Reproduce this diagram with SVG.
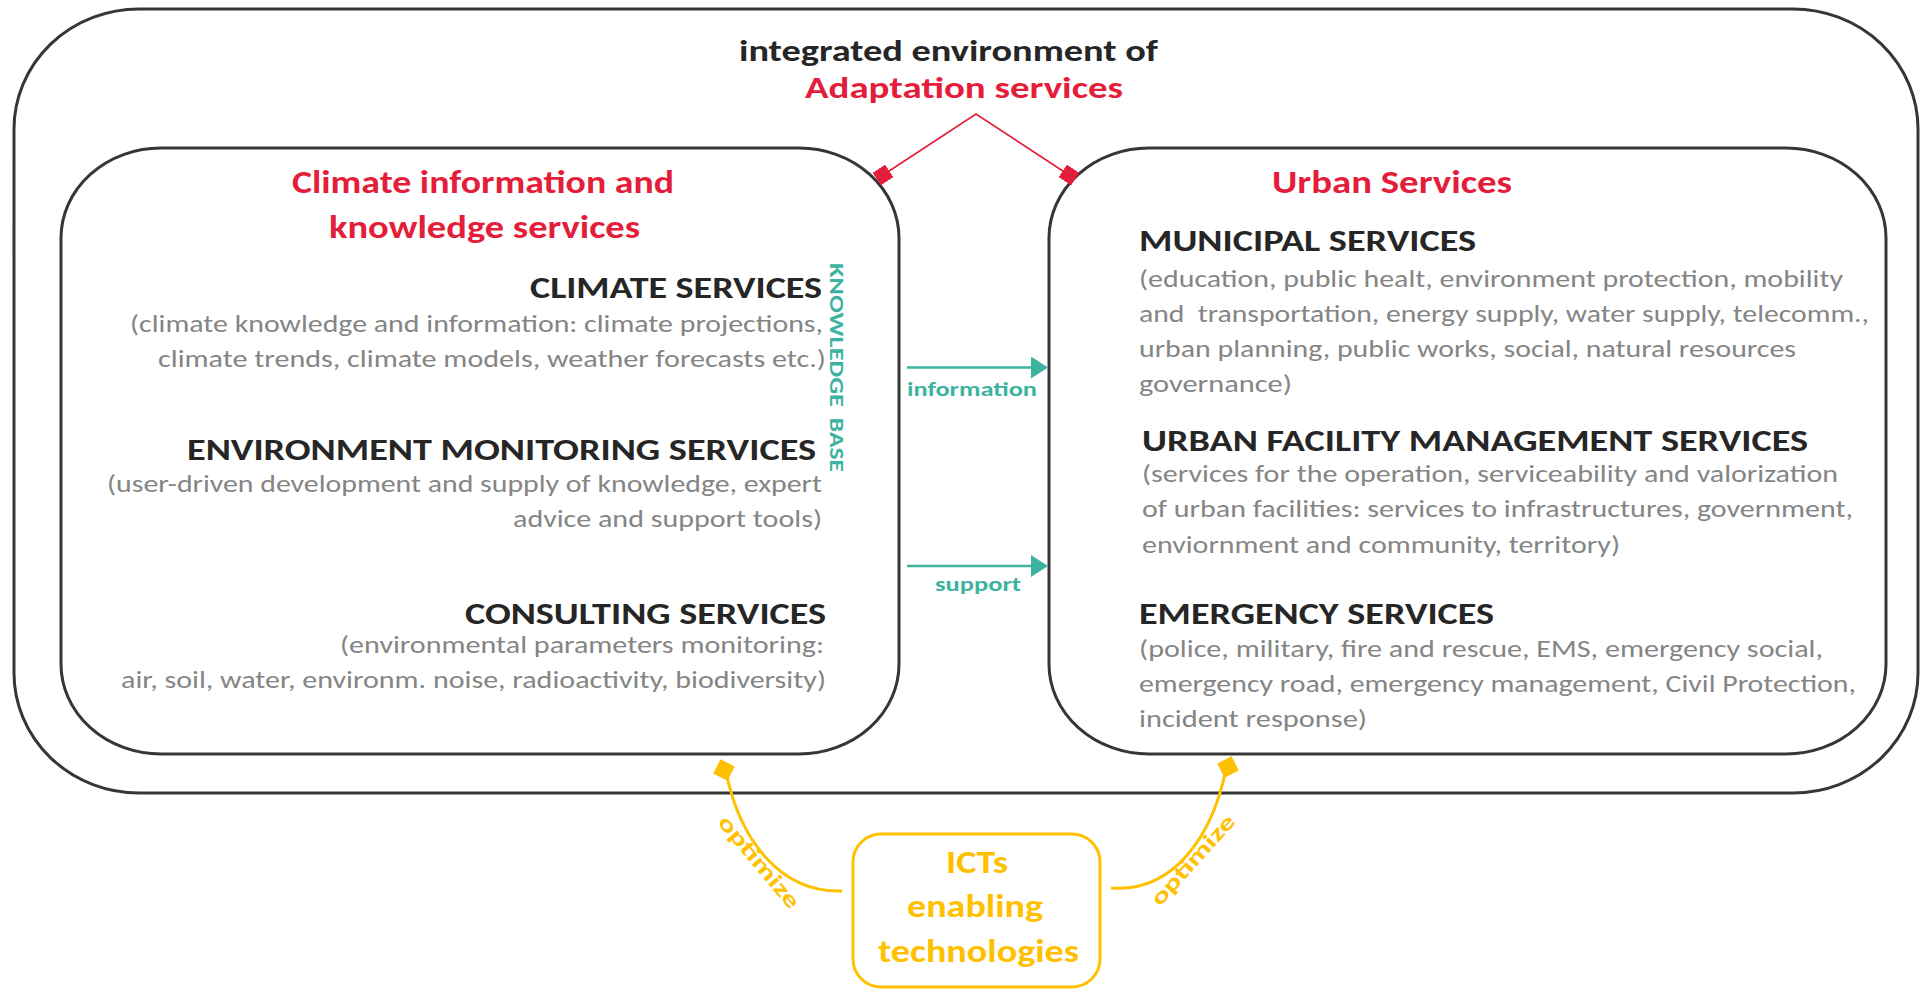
<svg xmlns="http://www.w3.org/2000/svg" width="1921" height="990" viewBox="0 0 1921 990">
<style>
  text { font-family: Carlito, Lato, "Open Sans", "Liberation Sans", sans-serif; }
  .box { fill: none; stroke: #363636; stroke-width: 3; }
  .title { font-size: 30px; font-weight: bold; fill: #262626; }
  .red { font-weight: bold; fill: #E41E3A; }
  .red-h { font-size: 32px; }
  .head { font-size: 29.5px; font-weight: bold; fill: #262626; }
  .body { font-size: 25px; fill: #858585; }
  .teal { font-size: 21px; font-weight: bold; fill: #3DB39F; }
  .yel { font-weight: bold; fill: #FFC000; }
  .redline { fill: none; stroke: #E41E3A; stroke-width: 1.6; }
  .tealline { fill: none; stroke: #3DB39F; stroke-width: 2.5; }
  .yelline { fill: none; stroke: #FFC000; stroke-width: 3; }
</style>
<defs>
  <marker id="redsq" markerUnits="userSpaceOnUse" viewBox="0 0 15 15" markerWidth="15" markerHeight="15" refX="7.5" refY="7.5" orient="auto">
    <rect x="0" y="0" width="15" height="15" fill="#E41E3A"/>
  </marker>
  <marker id="tealarrow" markerUnits="userSpaceOnUse" viewBox="0 0 17 22" markerWidth="17" markerHeight="22" refX="9" refY="11" orient="auto">
    <path d="M0 0 L17 11 L0 22 Z" fill="#3DB39F"/>
  </marker>
  <rect id="yelsq" x="-8" y="-8" width="16" height="16" fill="#FFC000"/>
</defs>

<g id="adaptation-environment">
  <rect class="box" x="14" y="9" width="1904" height="784" rx="125" ry="120"/>
  <text class="title" x="739" y="61" textLength="419" lengthAdjust="spacingAndGlyphs">integrated environment of</text>
  <text class="red" font-size="31" x="805" y="98" textLength="318" lengthAdjust="spacingAndGlyphs">Adaptation services</text>
</g>

<g id="climate-services">
  <rect class="box" x="61" y="148" width="838" height="606" rx="100" ry="90"/>
  <text class="red red-h" x="292" y="193" textLength="382" lengthAdjust="spacingAndGlyphs">Climate information and</text>
  <text class="red red-h" x="329" y="238" textLength="311" lengthAdjust="spacingAndGlyphs">knowledge services</text>
  <text class="head" x="530" y="298" textLength="292" lengthAdjust="spacingAndGlyphs">CLIMATE SERVICES</text>
  <text class="body" x="130" y="332" textLength="693" lengthAdjust="spacingAndGlyphs">(climate knowledge and information: climate projections,</text>
  <text class="body" x="158" y="367" textLength="668" lengthAdjust="spacingAndGlyphs">climate trends, climate models, weather forecasts etc.)</text>
  <text class="head" x="187" y="460" textLength="629" lengthAdjust="spacingAndGlyphs">ENVIRONMENT MONITORING SERVICES</text>
  <text class="body" x="107" y="492" textLength="715" lengthAdjust="spacingAndGlyphs">(user-driven development and supply of knowledge, expert</text>
  <text class="body" x="513" y="527" textLength="309" lengthAdjust="spacingAndGlyphs">advice and support tools)</text>
  <text class="head" x="465" y="624" textLength="361" lengthAdjust="spacingAndGlyphs">CONSULTING SERVICES</text>
  <text class="body" x="340" y="653" textLength="484" lengthAdjust="spacingAndGlyphs">(environmental parameters monitoring:</text>
  <text class="body" x="121" y="688" textLength="705" lengthAdjust="spacingAndGlyphs">air, soil, water, environm. noise, radioactivity, biodiversity)</text>
  <text class="teal" font-size="24" transform="translate(830 263) rotate(90)"><tspan x="0" y="0" textLength="144" lengthAdjust="spacingAndGlyphs">KNOWLEDGE</tspan><tspan x="149" y="0" textLength="60" lengthAdjust="spacingAndGlyphs"> BASE</tspan></text>
</g>

<g id="urban-services">
  <rect class="box" x="1049" y="148" width="837" height="606" rx="100" ry="90"/>
  <text class="red red-h" x="1272" y="193" textLength="240" lengthAdjust="spacingAndGlyphs">Urban Services</text>
  <text class="head" x="1139" y="251" textLength="337" lengthAdjust="spacingAndGlyphs">MUNICIPAL SERVICES</text>
  <text class="body" x="1139" y="287" textLength="704" lengthAdjust="spacingAndGlyphs">(education, public healt, environment protection, mobility</text>
  <text class="body" x="1139" y="322" textLength="730" lengthAdjust="spacingAndGlyphs" style="white-space:pre">and  transportation, energy supply, water supply, telecomm.,</text>
  <text class="body" x="1139" y="357" textLength="657" lengthAdjust="spacingAndGlyphs">urban planning, public works, social, natural resources</text>
  <text class="body" x="1139" y="392" textLength="153" lengthAdjust="spacingAndGlyphs">governance)</text>
  <text class="head" x="1142" y="451" textLength="666" lengthAdjust="spacingAndGlyphs">URBAN FACILITY MANAGEMENT SERVICES</text>
  <text class="body" x="1142" y="482" textLength="696" lengthAdjust="spacingAndGlyphs">(services for the operation, serviceability and valorization</text>
  <text class="body" x="1142" y="517" textLength="711" lengthAdjust="spacingAndGlyphs">of urban facilities: services to infrastructures, government,</text>
  <text class="body" x="1142" y="553" textLength="478" lengthAdjust="spacingAndGlyphs">enviornment and community, territory)</text>
  <text class="head" x="1139" y="624" textLength="355" lengthAdjust="spacingAndGlyphs">EMERGENCY SERVICES</text>
  <text class="body" x="1139" y="657" textLength="684" lengthAdjust="spacingAndGlyphs">(police, military, fire and rescue, EMS, emergency social,</text>
  <text class="body" x="1139" y="692" textLength="717" lengthAdjust="spacingAndGlyphs">emergency road, emergency management, Civil Protection,</text>
  <text class="body" x="1139" y="727" textLength="228" lengthAdjust="spacingAndGlyphs">incident response)</text>
</g>

<g id="ict-enabling-technologies">
  <rect x="853" y="834" width="247" height="153" rx="28" ry="28" fill="none" stroke="#FFC000" stroke-width="3"/>
  <text class="yel" font-size="32" x="946" y="873" textLength="62" lengthAdjust="spacingAndGlyphs">ICTs</text>
  <text class="yel" font-size="32" x="907" y="917" textLength="136" lengthAdjust="spacingAndGlyphs">enabling</text>
  <text class="yel" font-size="32" x="878" y="962" textLength="201" lengthAdjust="spacingAndGlyphs">technologies</text>
</g>

<g id="connectors">
  <path class="redline" d="M883 175 L976 114 L1069 175" marker-start="url(#redsq)" marker-end="url(#redsq)"/>
  <path class="tealline" d="M907 367.5 L1040 367.5" marker-end="url(#tealarrow)"/>
  <text class="teal" x="907" y="396" textLength="130" lengthAdjust="spacingAndGlyphs">information</text>
  <path class="tealline" d="M907 566 L1040 566" marker-end="url(#tealarrow)"/>
  <text class="teal" x="935" y="591" textLength="86" lengthAdjust="spacingAndGlyphs">support</text>
  <path class="yelline" d="M726 772 C740 840, 780 893, 842 891"/>
  <use href="#yelsq" transform="translate(724 770) rotate(27)"/>
  <path class="yelline" d="M1226 769 C1212 838, 1172 893, 1111 888"/>
  <use href="#yelsq" transform="translate(1228 767) rotate(-27)"/>
  <text class="yel" font-size="22" text-anchor="middle" transform="translate(759 862) rotate(50)" x="0" y="7" textLength="114" lengthAdjust="spacingAndGlyphs">optimize</text>
  <text class="yel" font-size="22" text-anchor="middle" transform="translate(1193 860) rotate(-48)" x="0" y="7" textLength="114" lengthAdjust="spacingAndGlyphs">optimize</text>
</g>
</svg>
